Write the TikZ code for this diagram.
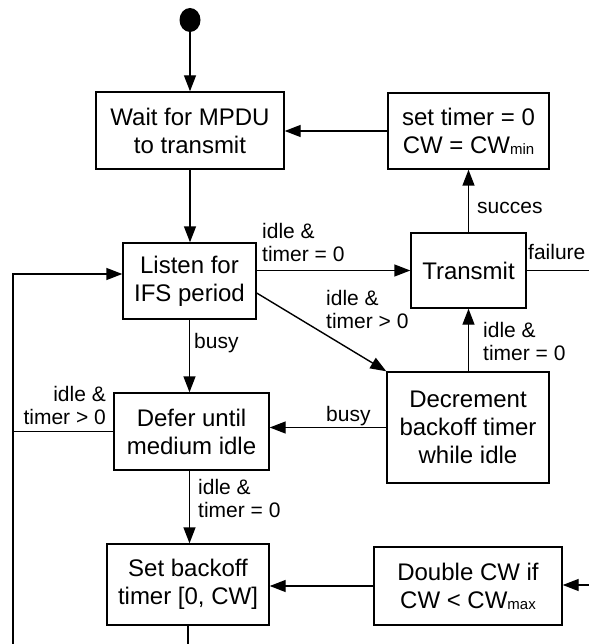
\documentclass[tikz,border=0pt]{standalone}
\usepackage{fontspec}
\setmainfont{Liberation Sans}
\usetikzlibrary{arrows.meta,shapes.geometric,calc}
\newcommand\stfont{\fontsize{24}{28}\selectfont}
\newcommand\cdfont{\fontsize{21}{23.5}\selectfont}
\newcommand\subtxt[1]{\raisebox{-1pt}{\fontsize{15}{15}\selectfont #1}}
\begin{document}
\begin{tikzpicture}[x=1pt,y=-1pt,
  state/.style={draw=black, line width=1.4pt, inner sep=0pt, align=center, font=\stfont},
  flow/.style={line width=1.4pt, -{Triangle[length=16pt,width=12pt]}},
  plain/.style={line width=1.4pt},
  cond/.style={inner sep=0pt, align=left, font=\cdfont},
  condr/.style={inner sep=0pt, align=right, font=\cdfont}]
\useasboundingbox (0,0) rectangle (588,644);

% states
\node[ellipse, fill=black, inner sep=0pt, minimum width=21pt, minimum height=24pt] (start) at (190,20) {};
\node[state, minimum width=188pt, minimum height=77pt] (wait) at (190,130.5) {Wait for MPDU\\to transmit};
\node[state, minimum width=161pt, minimum height=76pt] (settimer) at (468.5,131) {set timer = 0\\CW = CW\subtxt{min}};
\node[state, minimum width=133pt, minimum height=76pt] (listen) at (189.5,281) {Listen for\\IFS period};
\node[state, minimum width=115pt, minimum height=75pt] (transmit) at (468.5,270.5) {Transmit};
\node[state, minimum width=162pt, minimum height=111pt] (decrement) at (468,427.5) {Decrement\\backoff timer\\while idle};
\node[state, minimum width=155pt, minimum height=77pt] (defer) at (191.5,431.5) {Defer until\\medium idle};
\node[state, minimum width=162pt, minimum height=81pt] (setbackoff) at (188,584.5) {Set backoff\\timer [0, CW]};
\node[state, minimum width=188pt, minimum height=78pt] (double) at (468,586) {Double CW if\\CW < CW\subtxt{max}};

% open ends
\coordinate (failend) at (592,267);
\coordinate (dblin) at (592,585);
\coordinate (loopbot) at (13,650);
\coordinate (listenin) at ($(listen.west)+(0,-7)$);

% transitions
\draw[flow] (start) -- (wait);
\draw[flow] (settimer.west) -- (settimer.west -| wait.east);
\draw[flow] (wait.south) -- (wait.south |- listen.north);
\draw[flow] (listen.east |- transmit.west) -- (transmit.west);
\draw[plain] (transmit.east) -- (transmit.east -| failend);
\draw[flow] (transmit.north) -- (transmit.north |- settimer.south);
\draw[flow] ($(listen.east)+(0,12)$) -- (decrement.north west);
\draw[flow] (transmit.south |- decrement.north) -- (transmit.south);
\draw[flow] (decrement.west) -- (decrement.west -| defer.east);
\draw[flow] (listen.south) -- (listen.south |- defer.north);
\draw[flow] (loopbot) -- (loopbot |- listenin) -- (listenin);
\draw[plain] (defer.west) -- (defer.west -| loopbot);
\draw[flow] (listen.south |- defer.south) -- (listen.south |- setbackoff.north);
\draw[flow] (double.west) -- (double.west -| setbackoff.east);
\draw[flow] (dblin) -- (dblin -| double.east);
\draw[plain] (setbackoff.south) -- (setbackoff.south |- loopbot);

% conditions
\node[cond, anchor=north west] (c1) at (262,223) {idle \&\\timer = 0};
\node[cond, anchor=base west] (c2) at (477,213) {succes};
\node[cond, anchor=base west] (c3) at (528,259) {failure};
\node[cond, anchor=north west] (c4) at (326,290) {idle \&\\timer > 0};
\node[cond, anchor=north west] (c5) at (483,322) {idle \&\\timer = 0};
\node[cond, anchor=base west] (c6) at (326,421) {busy};
\node[cond, anchor=base west] (c7) at (194,348) {busy};
\node[condr, anchor=north east] (c8) at (106,386) {idle \&\\timer > 0};
\node[cond, anchor=north west] (c9) at (198,479) {idle \&\\timer = 0};
\end{tikzpicture}
\end{document}
